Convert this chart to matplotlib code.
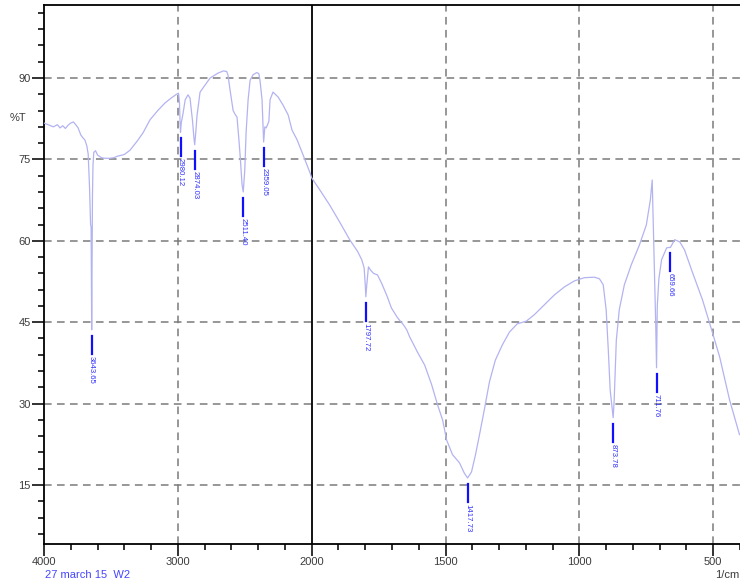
import numpy as np
import matplotlib
matplotlib.use('Agg')
import matplotlib.pyplot as plt
from matplotlib.ticker import FixedLocator, NullFormatter

plt.rcParams['font.family'] = ['Liberation Sans', 'DejaVu Sans']

# spectrum trace (1/cm, %T)
wavenumber = [
    4000, 3960, 3930, 3900, 3880, 3860, 3840, 3820, 3800, 3780, 3760, 3745,
    3725, 3710, 3695, 3680, 3670, 3660, 3652, 3648, 3645, 3643.65, 3641, 3638,
    3634, 3628, 3615, 3600, 3570, 3540, 3510, 3480, 3450, 3400, 3357, 3300,
    3260, 3208, 3150, 3096, 3050, 3010, 2995, 2988, 2983, 2980.12, 2974, 2961,
    2945, 2924, 2909, 2890, 2880, 2874.03, 2866, 2857, 2834, 2797, 2759, 2700,
    2660, 2635, 2625, 2610, 2587, 2570, 2558, 2545, 2535, 2520, 2511.40, 2500,
    2490, 2475, 2460, 2438, 2410, 2395, 2386, 2371, 2362, 2359.05, 2350, 2340,
    2333, 2320, 2311, 2289, 2251, 2214, 2176, 2147, 2109, 2064, 2012, 2000,
    1970, 1933, 1896, 1858, 1828, 1813, 1804, 1800, 1797.72, 1794, 1788, 1780,
    1769, 1754, 1739, 1720, 1702, 1679, 1657, 1645, 1634, 1605, 1578, 1552,
    1530, 1511, 1496, 1474, 1448, 1430, 1417.73, 1403, 1388, 1373, 1355, 1336,
    1314, 1288, 1261, 1232, 1198, 1168, 1131, 1094, 1056, 1019, 982, 944,
    925, 911, 900, 892, 885, 873.78, 870, 862, 851, 832, 806, 776,
    750, 735, 728, 720, 715, 711.76, 709, 703, 693, 674, 659.66, 644,
    625, 607, 577, 540, 506, 476, 439, 402,
]
transmittance = [
    81.7, 81.3, 81.0, 81.4, 80.8, 81.2, 80.7, 81.3, 81.7, 81.9, 81.3, 80.8,
    79.5, 79.0, 78.6, 77.5, 76.0, 70.0, 63.0, 62.5, 50.0, 43.6, 55.0, 68.0,
    74.0, 76.3, 76.6, 75.8, 75.3, 75.2, 75.2, 75.3, 75.6, 75.9, 76.7, 78.5,
    79.9, 82.3, 84.0, 85.4, 86.3, 87.0, 87.2, 85.5, 81.5, 80.0, 81.8, 83.5,
    86.0, 86.9, 86.3, 82.0, 79.0, 77.7, 80.0, 83.0, 87.4, 88.7, 90.0, 90.9,
    91.3, 91.2, 90.5, 87.8, 84.0, 83.2, 82.8, 79.0, 75.8, 70.3, 69.0, 73.0,
    80.0, 86.0, 89.6, 90.6, 91.0, 90.8, 89.5, 86.0, 80.0, 78.2, 81.0, 80.8,
    81.2, 82.0, 86.0, 87.4, 86.5, 85.0, 83.2, 80.4, 78.6, 75.8, 72.5, 71.6,
    69.4, 66.6, 63.5, 60.2, 58.0, 56.5, 55.0, 52.0, 49.7, 52.0, 55.2, 54.6,
    54.0, 53.7, 52.2, 50.0, 47.6, 45.8, 44.5, 43.6, 42.3, 39.5, 37.1, 33.5,
    29.8, 27.0, 23.3, 20.6, 19.1, 17.2, 16.3, 17.4, 20.6, 24.3, 28.9, 34.0,
    38.0, 40.8, 43.2, 44.7, 45.2, 46.4, 48.2, 50.0, 51.5, 52.6, 53.2, 53.3,
    53.0, 51.9, 47.3, 39.9, 32.5, 27.4, 30.7, 41.7, 47.3, 51.9, 55.6, 59.2,
    62.9, 67.5, 71.2, 55.0, 45.0, 36.6, 48.0, 53.0, 56.5, 58.7, 58.8, 60.2,
    59.8, 58.3, 54.1, 49.1, 43.6, 38.6, 30.7, 24.3,
]

# labelled peaks
peak_pos = [3643.65, 2980.12, 2874.03, 2511.40, 2359.05, 1797.72, 1417.73, 873.78, 711.76, 659.66]
peak_val = [43.6, 80.0, 77.7, 69.0, 78.2, 49.7, 16.3, 27.4, 36.6, 58.8]

x_major = [4000, 3000, 2000, 1500, 1000, 500]
x_minor = [3800, 3600, 3400, 3200, 2800, 2600, 2400, 2200,
           1900, 1800, 1700, 1600, 1400, 1300, 1200, 1100,
           900, 800, 700, 600, 400]
y_major = [15, 30, 45, 60, 75, 90]
y_minor = [6, 9, 12, 18, 21, 24, 27, 33, 36, 39, 42, 48, 51, 54, 57,
           63, 66, 69, 72, 78, 81, 84, 87, 93, 96, 99, 102]


# above 2000 1/cm the scale is compressed by half
def fwd(w):
    w = np.asarray(w, dtype=float)
    return np.where(w > 2000, 2000 + (w - 2000) / 2.0, w)


def inv(u):
    u = np.asarray(u, dtype=float)
    return np.where(u > 2000, 2000 + (u - 2000) * 2.0, u)


fig = plt.figure(figsize=(7.4, 5.83), dpi=100)
ax = fig.add_axes([44 / 740, 39 / 583, 696 / 740, 539 / 583])
ax.set_xscale('function', functions=(fwd, inv))
ax.set_xlim(4000, 400)
ax.set_ylim(4.13, 103.45)

grid_kw = dict(color='#7a7a7a', lw=1.1, ls=(0, (5, 3.5)), zorder=1)
for yv in y_major:
    ax.axhline(yv, **grid_kw)
for xv in [3000, 1500, 1000, 500]:
    ax.axvline(xv, **grid_kw)
ax.axvline(2000, color='black', lw=1.3, zorder=1)

ax.plot(wavenumber, transmittance, color='#b3b3f2', lw=0.9, zorder=3)

for p, v in zip(peak_pos, peak_val):
    ax.plot([p, p], [v - 1.1, v - 4.4], color='#1010ff', lw=1.6, zorder=4)
    ax.text(p, v - 4.8, '%.2f' % p, rotation=270, ha='center', va='top',
            fontsize=5.6, color='#3030ff', zorder=4)

ax.xaxis.set_major_locator(FixedLocator(x_major))
ax.xaxis.set_minor_locator(FixedLocator(x_minor))
ax.set_xticklabels([str(v) for v in x_major])
ax.xaxis.set_minor_formatter(NullFormatter())
ax.yaxis.set_major_locator(FixedLocator(y_major))
ax.yaxis.set_minor_locator(FixedLocator(y_minor))
ax.set_yticklabels([str(v) for v in y_major])

ax.tick_params(which='major', length=8.5, width=1.3, pad=1.2,
               labelsize=8, labelcolor='#3c3c3c', color='#222222')
ax.tick_params(which='minor', length=4.3, width=1.3, color='#222222')
for s in ['left', 'bottom', 'top']:
    ax.spines[s].set_linewidth(1.3)
ax.spines['right'].set_visible(False)

fig.text(10 / 740, 1 - 118 / 583, '%T', fontsize=8, color='#3c3c3c', ha='left', va='center')
fig.text(45 / 740, 1 - 574.5 / 583, '27 march 15  W2', fontsize=8, color='#4646ff',
         ha='left', va='center')
fig.text(739 / 740, 1 - 575 / 583, '1/cm', fontsize=8, color='#3c3c3c', ha='right', va='center')

fig.savefig('out.png', dpi=100)
